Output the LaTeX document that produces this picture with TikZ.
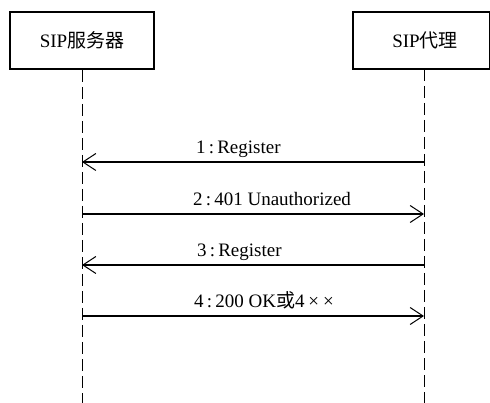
\documentclass[tikz,border=0pt]{standalone}
\usepackage{fontspec}
\setmainfont{Liberation Serif}
\newfontfamily\cjk{Noto Sans CJK SC}
\usetikzlibrary{arrows.meta}
\tikzset{
  actor/.style={draw, line width=2pt, minimum width=144pt, minimum height=57pt, font=\fontsize{19}{22}\selectfont, inner sep=0pt},
  life/.style={line width=1pt, dash pattern=on 12pt off 5pt},
  msg/.style={line width=1.2pt, -{Straight Barb[length=13pt, width=17pt, line width=1pt]}},
  lbl/.style={anchor=base west, inner sep=0pt, font=\fontsize{19}{22}\selectfont}
}
\begin{document}
\begin{tikzpicture}[x=1pt, y=-1pt]
\useasboundingbox (0,0) rectangle (490,403);
\begin{scope}
\clip (0,0) rectangle (490,403);
\node[actor] (srv) at (82,40.5) {SIP{\cjk 服务器}};
\node[actor, minimum width=137pt] (agt) at (421,40.5) {\hspace*{8pt}SIP{\cjk 代理}};
\coordinate (srvEnd) at (82,410);
\coordinate (agtEnd) at (424,410);
\draw[life] (srv.south) -- (srvEnd);
\draw[life] (424,69) -- (agtEnd);
\foreach \i/\y in {1/162,2/214,3/265,4/316}{
  \coordinate (s\i) at (82,\y);
  \coordinate (a\i) at (424,\y);
}
\draw[msg] (a1) -- (s1);
\draw[msg] (s2) -- (a2);
\draw[msg] (a3) -- (s3);
\draw[msg] (s4) -- (a4);
\node[lbl] (l1) at (196,154) {1\,:\,Register};
\node[lbl] (l2) at (193,206) {2\,:\,401 Unauthorized};
\node[lbl] (l3) at (197,257) {3\,:\,Register};
\node[lbl] (l4) at (194,308) {4\,:\,200 OK{\cjk 或}4\hspace{4pt}×\hspace{4pt}×};
\end{scope}
\end{tikzpicture}
\end{document}
